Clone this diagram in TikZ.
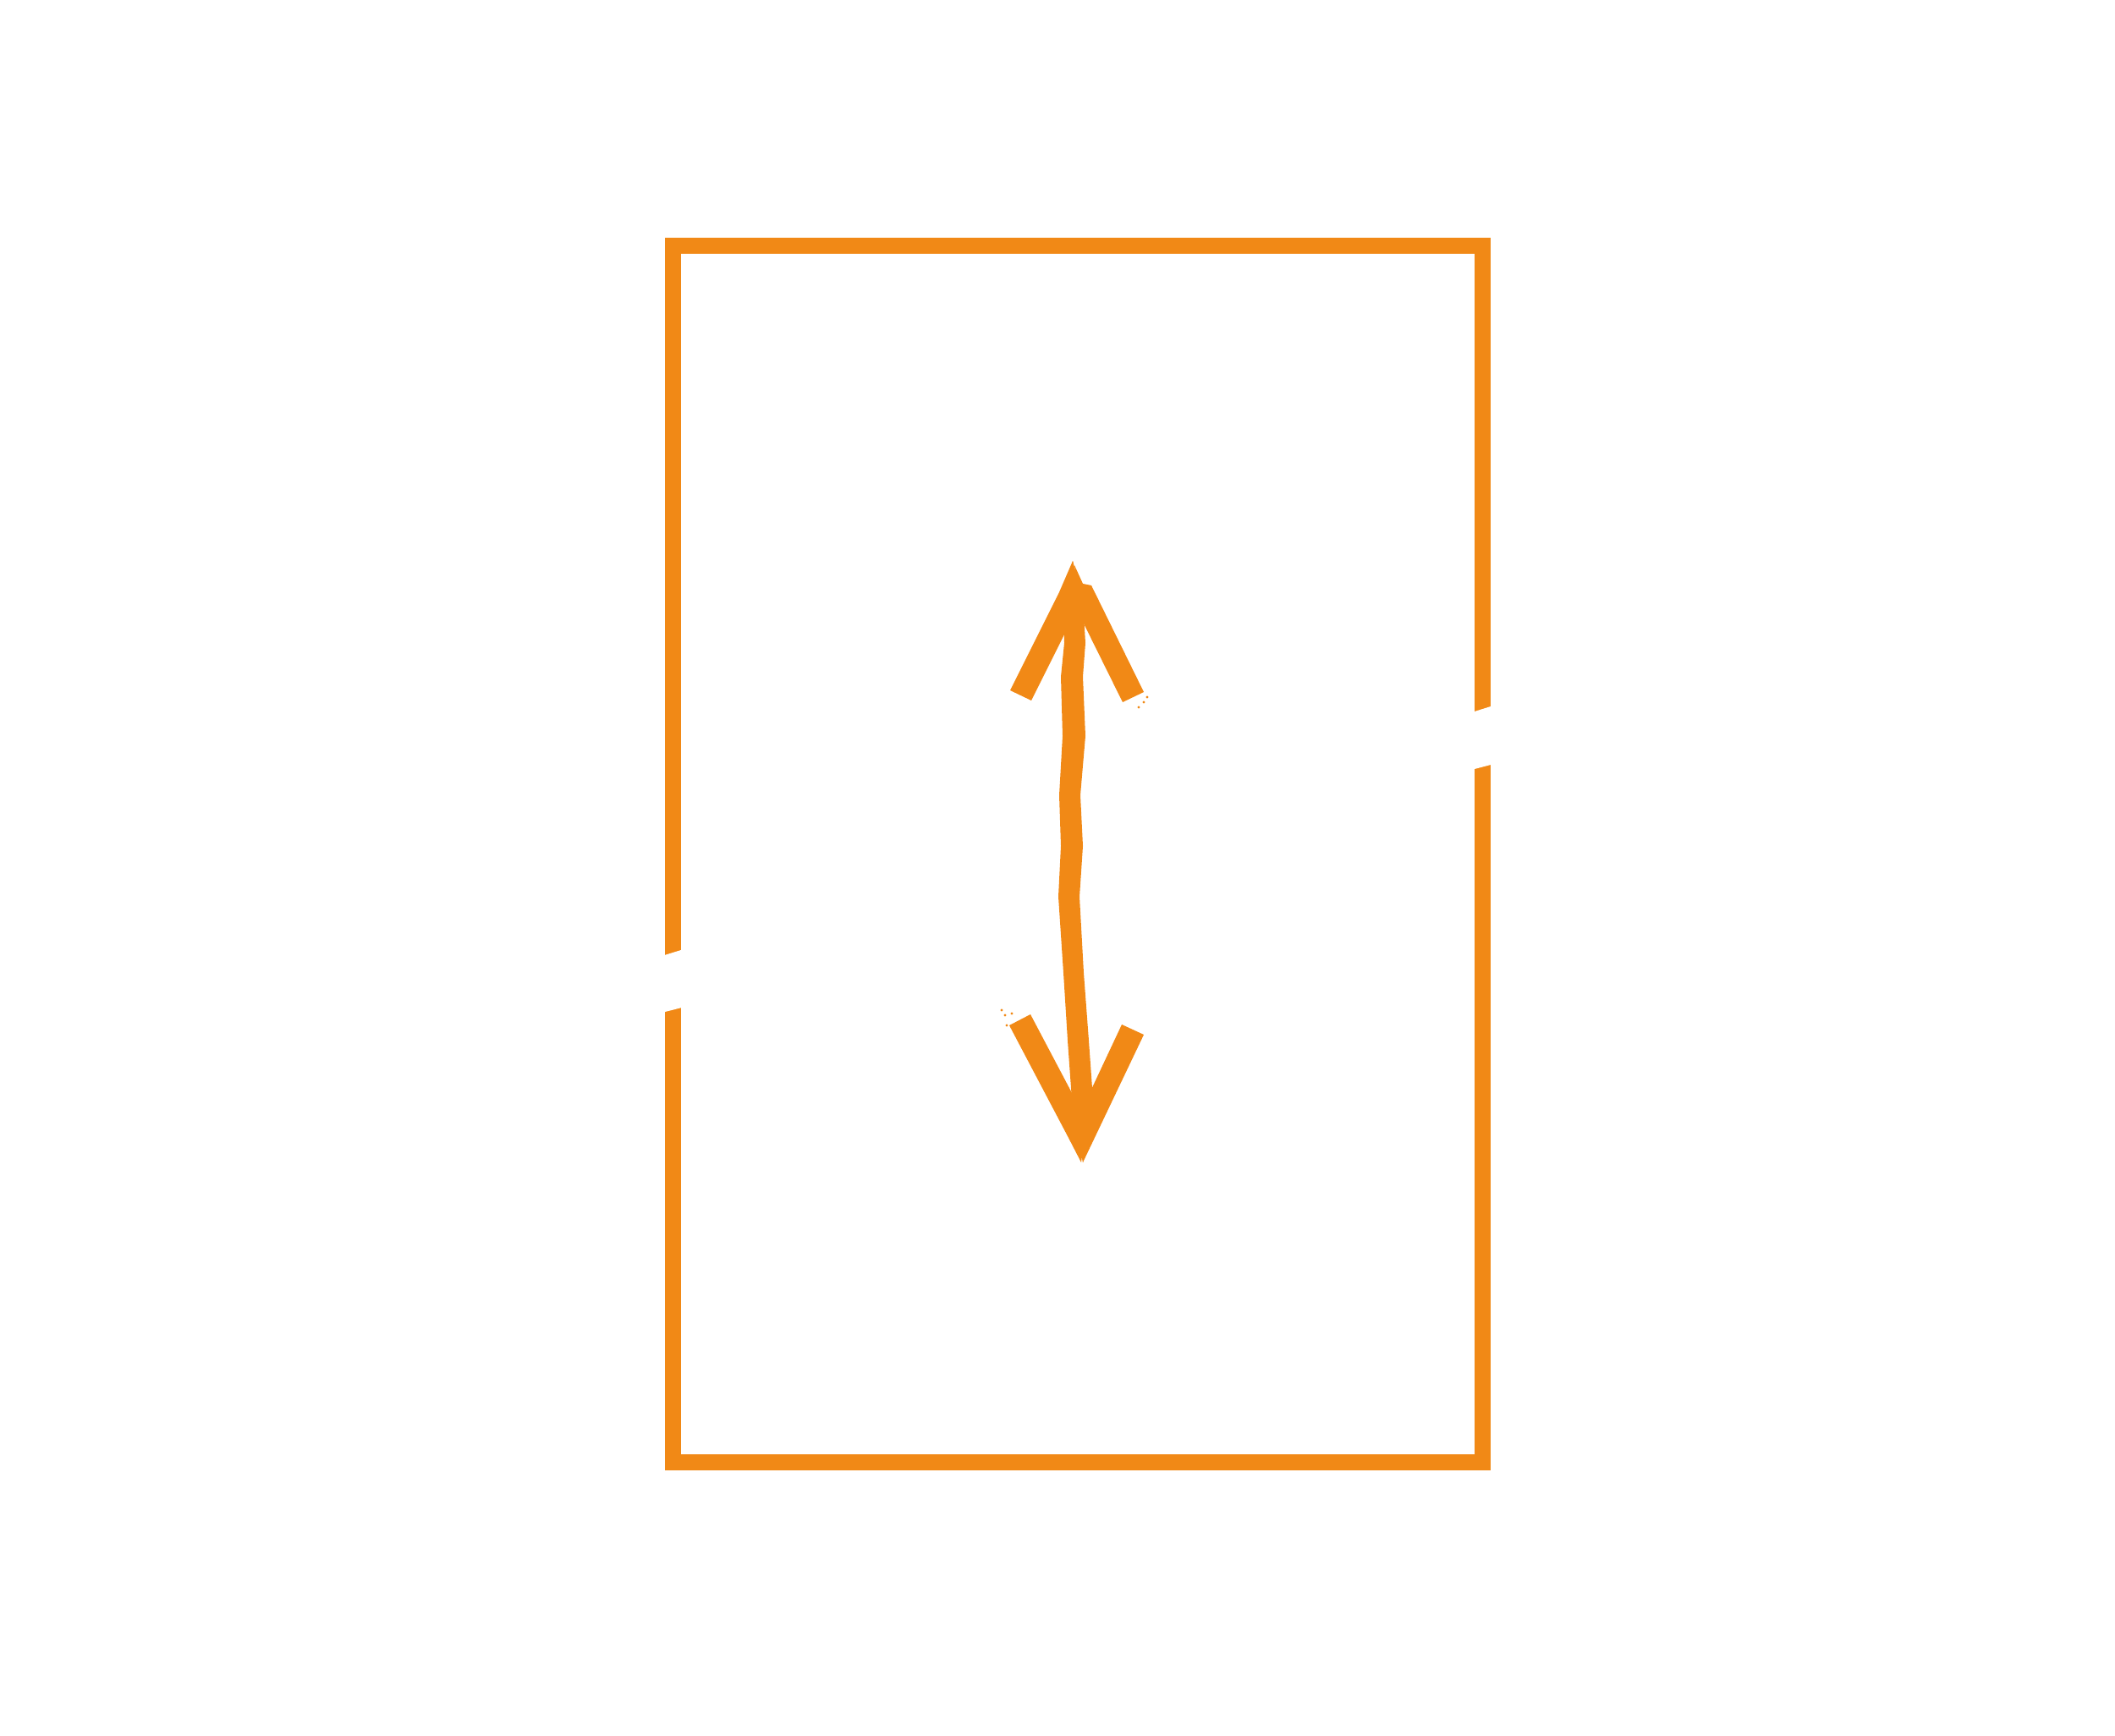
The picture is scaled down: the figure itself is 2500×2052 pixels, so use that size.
\documentclass[tikz,border=0pt]{standalone}
\usepackage{xcolor}
\definecolor{chalkOrange}{RGB}{241,137,22}

\begin{document}
\begin{tikzpicture}[x=0.01cm,y=-0.01cm,
  frameLine/.style={draw=chalkOrange, line width=0.19cm},
  gapCut/.style={fill=white, draw=none},
  chalkFill/.style={fill=chalkOrange, draw=none}]
\useasboundingbox (0,0) rectangle (2500,2052);
% frame
\draw[frameLine] (795.5,290.5) rectangle (1752.5,1728.5);
\fill[gapCut] (778,1131.3) -- (814,1120.2) -- (814,1188.9) -- (778,1198.1) -- cycle;
\fill[gapCut] (1735,843.5) -- (1770,832.5) -- (1770,901.9) -- (1735,911.1) -- cycle;
% double arrow
\coordinate (arrowTop) at (1268,663);
\coordinate (arrowBot) at (1280,1374);
% shaft
\fill[chalkFill] (arrowTop) -- (1257,710) -- (1258,760) -- (1254,800) -- (1256,870)
  -- (1252,940) -- (1254,1000) -- (1251,1060) -- (1257,1150) -- (1262,1230)
  -- (1267,1300) -- (arrowBot) -- (1292,1300) -- (1287,1230) -- (1281,1150)
  -- (1276,1060) -- (1280,1000) -- (1277,940) -- (1283,870) -- (1280,800)
  -- (1283,760) -- (1280,710) -- cycle;
% heads
\fill[chalkFill] (arrowTop) -- (1282,720) -- (1262,742) -- (1219,828) -- (1194,816)
  -- (1252,700) -- cycle;
\fill[chalkFill] (1270,668) -- (1280,690) -- (1290,692) -- (1352,818) -- (1327,830)
  -- (1275,725) -- cycle;
\fill[chalkFill] (1278,1374) -- (1262,1343) -- (1193,1212) -- (1218,1199)
  -- (1285,1326) -- cycle;
\fill[chalkFill] (arrowBot) -- (1352,1223) -- (1326,1211) -- (1272,1326) -- cycle;
% chalk specks
\foreach \sx/\sy in {1352/830, 1346/836, 1356/824, 1188/1200, 1184/1194, 1196/1198, 1190/1212}
  \fill[chalkOrange] (\sx,\sy) circle (1.6);
\end{tikzpicture}
\end{document}
